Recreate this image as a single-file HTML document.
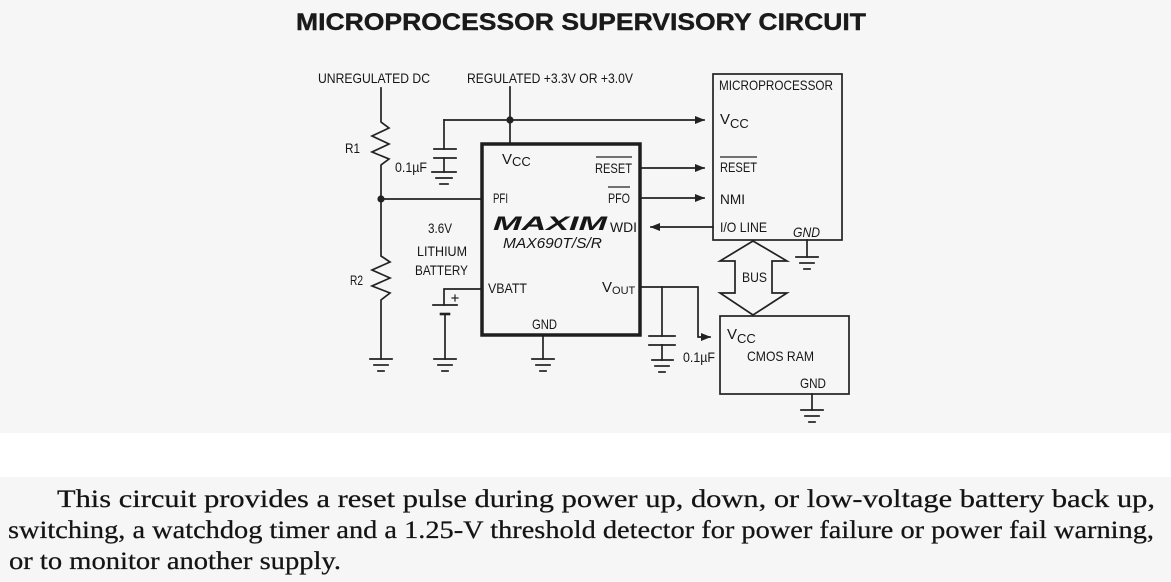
<!DOCTYPE html>
<html><head><meta charset="utf-8"><style>
html,body{margin:0;padding:0;background:#f6f6f6;}
svg{display:block;}
</style></head><body>
<svg width="1171" height="582" viewBox="0 0 1171 582" xmlns="http://www.w3.org/2000/svg">
<defs>
<marker id="ah" markerWidth="10" markerHeight="8" refX="9" refY="4" orient="auto" markerUnits="userSpaceOnUse">
<path d="M0,0 L10,4 L0,8 Z" fill="#222"/>
</marker>
</defs>
<rect x="0" y="0" width="1171" height="582" fill="#f6f6f6"/>
<rect x="0" y="433" width="1171" height="44" fill="#ffffff"/>

<text x="296" y="30" font-family="Liberation Sans, Arial, sans-serif" font-weight="bold" font-size="24.5" fill="#1a1a1a" stroke="#1a1a1a" stroke-width="0.4" textLength="570" lengthAdjust="spacingAndGlyphs">MICROPROCESSOR SUPERVISORY CIRCUIT</text>

<g fill="none" stroke="#222" stroke-width="1.7" stroke-linecap="square">
<polyline points="381,88 381,122 389,128 372,136 389,144 372,152 389,159 381,165 381,256 390,262 372,270 390,278 372,286 390,293 381,300 381,359"/>
<line x1="381" y1="199" x2="482" y2="199"/>
<line x1="370" y1="359" x2="392" y2="359"/><line x1="374" y1="365" x2="388" y2="365"/><line x1="378" y1="371" x2="384" y2="371"/>
<line x1="510" y1="87" x2="510" y2="144"/>
<line x1="444" y1="120" x2="704" y2="120" marker-end="url(#ah)"/>
<line x1="444" y1="120" x2="444" y2="149"/>
<line x1="434" y1="149" x2="456" y2="149"/>
<line x1="434" y1="158" x2="456" y2="158"/>
<line x1="444" y1="158" x2="444" y2="172"/>
<line x1="432" y1="172" x2="456" y2="172"/><line x1="436" y1="178" x2="452" y2="178"/><line x1="440" y1="184" x2="448" y2="184"/>
<line x1="640" y1="168" x2="704" y2="168" marker-end="url(#ah)"/>
<line x1="640" y1="198" x2="704" y2="198" marker-end="url(#ah)"/>
<line x1="713" y1="227" x2="651" y2="227" marker-end="url(#ah)"/>
<polyline points="482,289 444,289 444,305"/>
<line x1="433" y1="305" x2="457" y2="305"/>
<line x1="441" y1="314" x2="449" y2="314" stroke-width="2.6"/>
<line x1="445" y1="314" x2="445" y2="359"/>
<line x1="452" y1="298" x2="458" y2="298" stroke-width="1.2"/><line x1="455" y1="295" x2="455" y2="301" stroke-width="1.2"/>
<line x1="434" y1="359" x2="456" y2="359"/><line x1="438" y1="365" x2="452" y2="365"/><line x1="442" y1="371" x2="448" y2="371"/>
<line x1="543" y1="335" x2="543" y2="359"/>
<line x1="532" y1="359" x2="554" y2="359"/><line x1="536" y1="365" x2="550" y2="365"/><line x1="540" y1="371" x2="546" y2="371"/>
<polyline points="640,287 698,287 698,337 710,337" marker-end="url(#ah)"/>
<line x1="662" y1="287" x2="662" y2="336"/>
<line x1="649" y1="336" x2="675" y2="336"/>
<line x1="649" y1="345" x2="675" y2="345"/>
<line x1="662" y1="345" x2="662" y2="360"/>
<line x1="652" y1="360" x2="673" y2="360"/><line x1="655" y1="366" x2="669" y2="366"/><line x1="659" y1="372" x2="665" y2="372"/>
<rect x="713" y="74" width="129" height="166"/>
<line x1="807" y1="240" x2="807" y2="257"/>
<line x1="796" y1="257" x2="818" y2="257"/><line x1="800" y1="263" x2="814" y2="263"/><line x1="804" y1="269" x2="810" y2="269"/>
<rect x="720" y="316" width="129" height="78"/>
<line x1="812" y1="394" x2="812" y2="410"/>
<line x1="801" y1="410" x2="823" y2="410"/><line x1="805" y1="416" x2="819" y2="416"/><line x1="809" y1="422" x2="815" y2="422"/>
<polygon points="753,241 787,261 772,261 772,293 787,293 753,315 720,293 735,293 735,261 720,261" stroke-linejoin="miter"/>
</g>
<rect x="482" y="144" width="158" height="191" fill="none" stroke="#1e1e1e" stroke-width="3.5"/>
<circle cx="381" cy="199" r="3.6" fill="#222"/>
<circle cx="510" cy="120" r="3.6" fill="#222"/>

<g font-family="Liberation Sans, Arial, sans-serif" font-size="14" fill="#161616">
<text x="318" y="83" textLength="112" lengthAdjust="spacingAndGlyphs">UNREGULATED DC</text>
<text x="467" y="83" textLength="166" lengthAdjust="spacingAndGlyphs">REGULATED +3.3V OR +3.0V</text>
<text x="345" y="153" textLength="15" lengthAdjust="spacingAndGlyphs">R1</text>
<text x="395" y="172" textLength="32" lengthAdjust="spacingAndGlyphs">0.1µF</text>
<text x="502" y="164" font-size="15">V<tspan font-size="13" dy="2">CC</tspan></text>
<text x="595" y="173" textLength="37" lengthAdjust="spacingAndGlyphs">RESET</text>
<line x1="596" y1="157" x2="632" y2="157" stroke="#222" stroke-width="1.2"/>
<text x="493" y="203" textLength="15" lengthAdjust="spacingAndGlyphs">PFI</text>
<text x="608" y="203" textLength="22" lengthAdjust="spacingAndGlyphs">PFO</text>
<line x1="608" y1="187" x2="630" y2="187" stroke="#222" stroke-width="1.2"/>
<text x="493" y="230" font-size="19" font-weight="bold" font-style="italic" textLength="114" lengthAdjust="spacingAndGlyphs">MAXIM</text>
<text x="610" y="232" textLength="27" lengthAdjust="spacingAndGlyphs">WDI</text>
<text x="428" y="233" textLength="24" lengthAdjust="spacingAndGlyphs">3.6V</text>
<text x="503" y="248" font-size="15" font-style="italic" textLength="99" lengthAdjust="spacingAndGlyphs">MAX690T/S/R</text>
<text x="417" y="256" textLength="50" lengthAdjust="spacingAndGlyphs">LITHIUM</text>
<text x="415" y="275" textLength="53" lengthAdjust="spacingAndGlyphs">BATTERY</text>
<text x="350" y="285" textLength="13" lengthAdjust="spacingAndGlyphs">R2</text>
<text x="488" y="293" textLength="39" lengthAdjust="spacingAndGlyphs">VBATT</text>
<text x="602" y="292" font-size="15">V<tspan font-size="11" dy="2">OUT</tspan></text>
<text x="532" y="329" textLength="25" lengthAdjust="spacingAndGlyphs">GND</text>
<text x="719" y="90" textLength="114" lengthAdjust="spacingAndGlyphs">MICROPROCESSOR</text>
<text x="720" y="124" font-size="15">V<tspan font-size="13" dy="4">CC</tspan></text>
<text x="720" y="172" textLength="37" lengthAdjust="spacingAndGlyphs">RESET</text>
<line x1="720" y1="157" x2="757" y2="157" stroke="#222" stroke-width="1.2"/>
<text x="720" y="204" textLength="25" lengthAdjust="spacingAndGlyphs">NMI</text>
<text x="720" y="232" textLength="47" lengthAdjust="spacingAndGlyphs">I/O LINE</text>
<text x="793" y="237" font-style="italic" textLength="27" lengthAdjust="spacingAndGlyphs">GND</text>
<text x="742" y="282" textLength="25" lengthAdjust="spacingAndGlyphs">BUS</text>
<text x="727" y="339" font-size="15">V<tspan font-size="13" dy="4">CC</tspan></text>
<text x="747" y="361" textLength="67" lengthAdjust="spacingAndGlyphs">CMOS RAM</text>
<text x="800" y="388" textLength="26" lengthAdjust="spacingAndGlyphs">GND</text>
<text x="683" y="362" textLength="32" lengthAdjust="spacingAndGlyphs">0.1µF</text>
</g>

<g font-family="Liberation Serif, 'Times New Roman', serif" font-size="25" fill="#141414" stroke="#141414" stroke-width="0.25">
<text x="57" y="507" textLength="1098" lengthAdjust="spacingAndGlyphs">This circuit provides a reset pulse during power up, down, or low-voltage battery back up,</text>
<text x="8" y="538" textLength="1146" lengthAdjust="spacingAndGlyphs">switching, a watchdog timer and a 1.25-V threshold detector for power failure or power fail warning,</text>
<text x="9" y="569" textLength="332" lengthAdjust="spacingAndGlyphs">or to monitor another supply.</text>
</g>
</svg>
</body></html>
